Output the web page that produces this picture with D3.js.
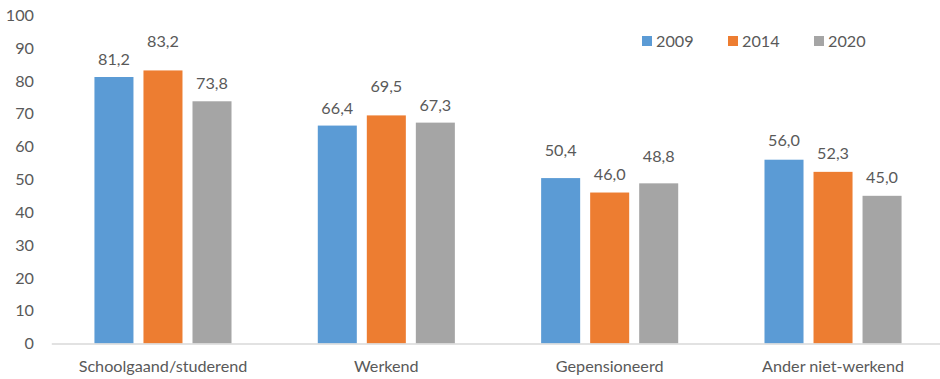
<!DOCTYPE html>
<html>
<head>
<meta charset="utf-8">
<script src="https://cdn.jsdelivr.net/npm/d3@7"></script>
<style>
  html, body { margin: 0; padding: 0; background: #fff; }
  svg { display: block; }
  text { font-family: Lato, "Open Sans", sans-serif; fill: #595959; }
</style>
</head>
<body>
<svg id="chart" width="940" height="379"></svg>
<script>
const categories = ["Schoolgaand/studerend", "Werkend", "Gepensioneerd", "Ander niet-werkend"];
const years = ["2009", "2014", "2020"];
const values2009 = [81.2, 66.4, 50.4, 56.0];
const values2014 = [83.2, 69.5, 46.0, 52.3];
const values2020 = [73.8, 67.3, 48.8, 45.0];
const yTicks = [0, 10, 20, 30, 40, 50, 60, 70, 80, 90, 100];
const colors = ["#5B9BD5", "#ED7D31", "#A5A5A5"];

const seriesValues = [values2009, values2014, values2020];
const fontSize = 16.2;

// distance (px) between each value label's baseline and its bar top,
// per series, per category; some labels are lifted to keep clear of neighbours
const labelGap = [
  [12, 12, 22, 14],
  [23, 23, 13, 13],
  [12, 12, 21, 13]
];

const svg = d3.select("#chart");
const plotLeft = 51.3, plotRight = 944.7, plotTop = 15.3, plotBottom = 343.5;

const x0 = d3.scaleBand().domain(categories).range([plotLeft, plotRight]).padding(0);
const x1 = d3.scaleBand().domain(years).range([0, x0.bandwidth()])
  .paddingInner(0.204).paddingOuter(0.88);
const y = d3.scaleLinear().domain([0, 100]).range([plotBottom, plotTop]);

const fmt = v => d3.format(".1f")(v).replace(".", ",");

// y-axis tick labels (no axis line, no tick marks)
const yAxis = d3.axisLeft(y).tickValues(yTicks).tickSize(0).tickPadding(0);
const yg = svg.append("g").attr("transform", `translate(34,0)`).call(yAxis);
yg.select(".domain").remove();
yg.selectAll("text").style("font-size", fontSize + "px")
  .style("font-family", "Lato, 'Open Sans', sans-serif").attr("fill", "#595959");

// bars
const groups = svg.append("g").selectAll("g").data(categories).join("g")
  .attr("transform", d => `translate(${x0(d)},0)`);

const cells = (c, i) => years.map((yr, s) => ({ yr, s, i, v: seriesValues[s][i] }));

groups.selectAll("rect")
  .data(cells)
  .join("rect")
  .attr("x", d => x1(d.yr))
  .attr("width", x1.bandwidth())
  .attr("y", d => y(d.v))
  .attr("height", d => y(0) - y(d.v))
  .attr("fill", d => colors[d.s]);

groups.selectAll("text.val")
  .data(cells)
  .join("text")
  .attr("class", "val")
  .attr("x", d => x1(d.yr) + x1.bandwidth() / 2)
  .attr("y", d => y(d.v) - labelGap[d.s][d.i])
  .attr("text-anchor", "middle")
  .style("font-size", fontSize + "px")
  .text(d => fmt(d.v));

// x-axis baseline and category labels
const xAxis = d3.axisBottom(x0).tickSize(0).tickPadding(0);
const xg = svg.append("g").attr("transform", `translate(0,${plotBottom})`).call(xAxis);
xg.select(".domain").attr("stroke", "#D9D9D9").attr("stroke-width", 1.3);
xg.selectAll("text").attr("y", 28.8).attr("dy", null)
  .style("font-size", fontSize + "px")
  .style("font-family", "Lato, 'Open Sans', sans-serif").attr("fill", "#595959");

// legend
const legend = svg.append("g").selectAll("g").data(years).join("g")
  .attr("transform", (d, i) => `translate(${642 + i * 86},36)`);
legend.append("rect").attr("width", 10).attr("height", 10)
  .attr("fill", (d, i) => colors[i]);
legend.append("text").attr("x", 14).attr("y", 10.5)
  .style("font-size", fontSize + "px").text(d => d);
</script>
</body>
</html>
